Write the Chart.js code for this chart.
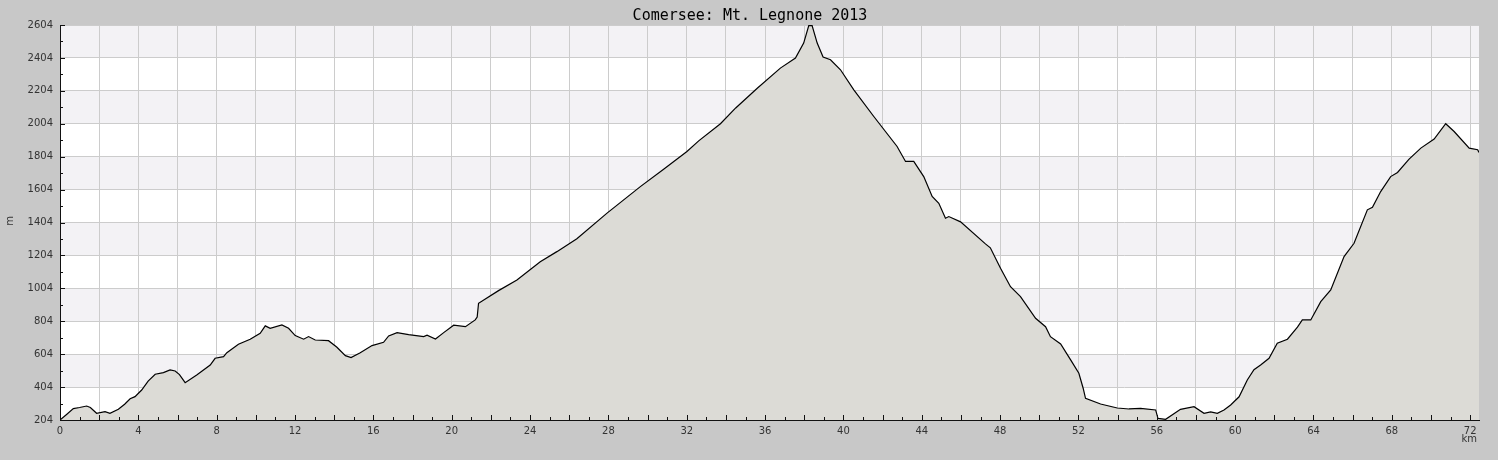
<!DOCTYPE html>
<html>
<head>
<meta charset="utf-8">
<script src="https://cdn.jsdelivr.net/npm/chart.js@4"></script>
<style>
html,body{margin:0;padding:0;background:#c8c8c8;}
canvas{display:block;}
</style>
</head>
<body>
<canvas id="c" width="1498" height="460"></canvas>
<script>
const chartTitle = "Comersee: Mt. Legnone 2013";
const xAxisLabel = "km";
const yAxisLabel = "m";

const distanceKm = [0,0.35,0.68,1.0,1.36,1.55,1.87,2.3,2.55,2.98,3.3,3.58,3.83,4.17,4.5,4.86,5.28,5.62,5.88,6.1,6.39,6.98,7.67,7.92,8.35,8.52,9.11,9.71,10.22,10.48,10.73,11.33,11.67,12.01,12.44,12.69,13.03,13.71,14.14,14.57,14.86,15.33,15.93,16.52,16.78,17.21,17.8,18.57,18.74,19.17,19.59,20.1,20.7,21.2,21.3,21.37,22.39,23.33,24.52,25.37,26.39,27.93,29.63,30.82,32.01,32.61,33.72,34.5,35.6,36.78,37.55,37.97,38.23,38.4,38.66,38.96,39.34,39.85,40.53,41.55,42.74,43.17,43.59,44.1,44.53,44.87,45.21,45.38,45.98,47.25,47.5,48.02,48.53,49.04,49.81,50.32,50.57,51.09,51.6,52.02,52.24,52.36,53.13,53.98,54.58,55.17,55.94,56.06,56.45,57.21,57.9,58.41,58.75,59.09,59.43,59.77,60.2,60.62,60.96,61.3,61.73,62.15,62.67,63.18,63.43,63.86,64.37,64.88,65.56,66.07,66.75,67.01,67.43,67.94,68.29,68.88,69.48,70.16,70.75,71.18,71.95,72.38,72.45];
const elevationM = [204,239,273,280,289,280,245,255,245,269,300,333,346,386,440,482,492,508,502,480,431,478,538,579,589,613,664,695,731,776,761,782,761,717,695,711,690,686,646,595,583,613,656,676,715,735,723,711,719,696,735,780,771,812,830,913,990,1055,1166,1227,1305,1461,1622,1728,1835,1900,2004,2100,2220,2342,2403,2494,2600,2600,2494,2409,2393,2332,2210,2048,1866,1775,1775,1683,1562,1521,1430,1440,1408,1274,1250,1126,1014,954,822,771,710,666,569,488,397,336,301,277,271,275,265,214,208,269,285,245,253,245,265,295,345,447,510,538,579,670,695,768,812,812,923,994,1197,1278,1481,1497,1592,1683,1708,1789,1856,1911,2004,1957,1856,1846,1830];

const xMin = 0, xMax = 72.45;
const yMin = 204, yMax = 2604;
const xTickValues = Array.from({length: 73}, (_, i) => i);           // every km
const yTickValues = Array.from({length: 25}, (_, i) => 204 + i * 100); // every 100 m

const points = distanceKm.map((k, i) => ({x: k, y: elevationM[i]}));

const decor = {
  id: 'decor',
  beforeDraw(chart) {
    const {ctx, chartArea: a, scales: {y}} = chart;
    ctx.save();
    ctx.fillStyle = '#c8c8c8';
    ctx.fillRect(0, 0, chart.width, chart.height);
    // alternating bands
    for (let v = yMin, i = 0; v < yMax; v += 200, i++) {
      const top = y.getPixelForValue(v + 200), bot = y.getPixelForValue(v);
      ctx.fillStyle = (i % 2 === 0) ? '#ffffff' : '#f3f2f5';
      ctx.fillRect(a.left, top, a.right - a.left, bot - top);
    }
    ctx.restore();
  },
  afterDraw(chart) {
    const {ctx, chartArea: a, scales: {x, y}} = chart;
    ctx.save();
    ctx.strokeStyle = '#111';
    ctx.lineWidth = 1;
    // tick marks inside plot
    x.ticks.forEach(t => {
      const px = Math.round(x.getPixelForValue(t.value)) + 0.5;
      const len = (t.value % 2 === 0) ? 5 : 3;
      ctx.beginPath(); ctx.moveTo(px, a.bottom); ctx.lineTo(px, a.bottom - len); ctx.stroke();
    });
    y.ticks.forEach(t => {
      const py = Math.round(y.getPixelForValue(t.value)) + 0.5;
      const len = ((t.value - yMin) % 200 === 0) ? 5 : 3;
      ctx.beginPath(); ctx.moveTo(a.left, py); ctx.lineTo(a.left + len, py); ctx.stroke();
    });
    // title
    ctx.fillStyle = '#000';
    ctx.font = '15px "DejaVu Sans Mono"';
    ctx.textAlign = 'center';
    ctx.textBaseline = 'alphabetic';
    ctx.fillText(chartTitle, 750, 20);
    // axis names
    ctx.fillStyle = '#333';
    ctx.font = '10px "DejaVu Sans"';
    ctx.textAlign = 'right';
    ctx.textBaseline = 'top';
    ctx.fillText(xAxisLabel, 1477, 434);
    ctx.translate(10, 221);
    ctx.rotate(-Math.PI / 2);
    ctx.textAlign = 'center';
    ctx.textBaseline = 'middle';
    ctx.fillText(yAxisLabel, 0, 0);
    ctx.restore();
  }
};

new Chart(document.getElementById('c'), {
  type: 'line',
  data: {
    datasets: [{
      data: points,
      borderColor: '#000',
      borderWidth: 1.2,
      backgroundColor: '#dcdbd6',
      fill: 'start',
      pointRadius: 0,
      tension: 0
    }]
  },
  options: {
    responsive: false,
    animation: false,
    events: [],
    layout: {padding: {top: 25, right: 19, left: 0, bottom: 0}},
    plugins: {legend: {display: false}, tooltip: {enabled: false}, title: {display: false}},
    scales: {
      x: {
        type: 'linear', min: xMin, max: xMax,
        afterBuildTicks: s => { s.ticks = xTickValues.map(v => ({value: v})); },
        afterFit: s => { s.height = 40; },
        ticks: {
          autoSkip: false, maxRotation: 0, padding: 5,
          color: '#333', font: {family: 'DejaVu Sans', size: 10},
          callback: v => (v % 4 === 0 ? String(v) : '')
        },
        grid: {
          drawTicks: false,
          color: c => (c.tick && c.tick.value % 2 === 0 && c.tick.value !== 0) ? '#cccccc' : 'rgba(0,0,0,0)',
          lineWidth: 1
        },
        border: {display: true, color: '#111', width: 1}
      },
      y: {
        type: 'linear', min: yMin, max: yMax,
        afterBuildTicks: s => { s.ticks = yTickValues.map(v => ({value: v})); },
        afterFit: s => { s.width = 60; },
        ticks: {
          autoSkip: false, padding: 7,
          color: '#333', font: {family: 'DejaVu Sans', size: 10},
          callback: v => ((v - yMin) % 200 === 0 ? String(v) : '')
        },
        grid: {
          drawTicks: false,
          color: c => (c.tick && (c.tick.value - yMin) % 200 === 0 && c.tick.value !== yMin) ? '#cccccc' : 'rgba(0,0,0,0)',
          lineWidth: 1
        },
        border: {display: true, color: '#111', width: 1}
      }
    }
  },
  plugins: [decor]
});
</script>
</body>
</html>
